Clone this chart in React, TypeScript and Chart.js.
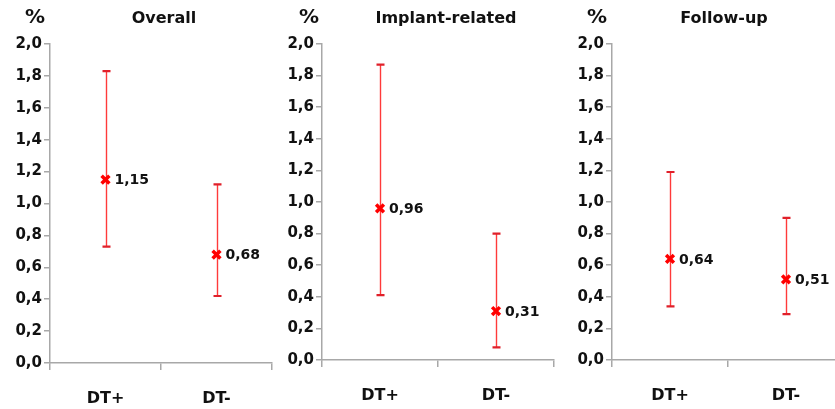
import React, { useEffect, useRef } from 'react';
import { Chart, registerables } from 'chart.js';

Chart.register(...registerables);

const categories = ['DT+', 'DT-'];
const panelTitles = ['Overall', 'Implant-related', 'Follow-up'];
const unitLabel = '%';

const overallValues = [1.15, 0.68];
const overallLower = [0.73, 0.42];
const overallUpper = [1.83, 1.12];

const implantValues = [0.96, 0.31];
const implantLower = [0.41, 0.08];
const implantUpper = [1.87, 0.8];

const followValues = [0.64, 0.51];
const followLower = [0.34, 0.29];
const followUpper = [1.19, 0.9];

const yMin = 0;
const yMax = 2;
const yStep = 0.2;

const fmt = (v: number, d: number) => v.toFixed(d).replace('.', ',');

const FONT = '"DejaVu Sans", Verdana, sans-serif';
const AXIS_COLOR = '#a8a8a8';

type Layout = {
  canvasLeft: number;
  width: number;
  axisLeft: number;
  axisRight: number;
  bottom: number;
  titleX: number;
  pctX: number;
};

const layouts: Layout[] = [
  { canvasLeft: 0, width: 300, axisLeft: 50, axisRight: 272, bottom: 363, titleX: 164, pctX: 35 },
  { canvasLeft: 275, width: 300, axisLeft: 322, axisRight: 554, bottom: 360, titleX: 446, pctX: 309 },
  { canvasLeft: 560, width: 300, axisLeft: 612, axisRight: 844, bottom: 360, titleX: 724, pctX: 597 },
];

const H = 409;

function Panel(props: {
  title: string;
  values: number[];
  lower: number[];
  upper: number[];
  layout: Layout;
}) {
  const { title, values, lower, upper, layout } = props;
  const ref = useRef<HTMLCanvasElement>(null);

  useEffect(() => {
    if (!ref.current) return;
    const L = layout;
    const yAxisWidth = L.axisLeft - L.canvasLeft;
    const rightPad = L.canvasLeft + L.width - L.axisRight;
    const xAxisHeight = H - L.bottom;

    const decor = {
      id: 'decor',
      beforeDatasetsDraw(chart: any) {
        const { ctx } = chart;
        const x = chart.scales.x;
        const y = chart.scales.y;
        ctx.save();
        values.forEach((_v, i) => {
          const px = Math.round(x.getPixelForValue(i)) + 0.5;
          const yt = y.getPixelForValue(upper[i]);
          const yb = y.getPixelForValue(lower[i]);
          ctx.strokeStyle = '#ff3a3a';
          ctx.lineWidth = 1.4;
          ctx.beginPath();
          ctx.moveTo(px, yt);
          ctx.lineTo(px, yb);
          ctx.stroke();
          ctx.strokeStyle = '#e0202a';
          ctx.lineWidth = 2.2;
          ctx.beginPath();
          ctx.moveTo(px - 4, yt);
          ctx.lineTo(px + 4, yt);
          ctx.moveTo(px - 4, yb);
          ctx.lineTo(px + 4, yb);
          ctx.stroke();
        });
        ctx.restore();
      },
      afterDatasetsDraw(chart: any) {
        const { ctx } = chart;
        const x = chart.scales.x;
        const y = chart.scales.y;
        ctx.save();
        ctx.fillStyle = '#111';
        ctx.font = `bold 14px ${FONT}`;
        ctx.textAlign = 'left';
        ctx.textBaseline = 'middle';
        values.forEach((v, i) => {
          const px = x.getPixelForValue(i);
          const py = y.getPixelForValue(v);
          ctx.fillText(fmt(v, 2), px + 9, py + 1);
        });
        ctx.restore();
      },
      afterDraw(chart: any) {
        const { ctx } = chart;
        ctx.save();
        ctx.fillStyle = '#111';
        ctx.textAlign = 'center';
        ctx.textBaseline = 'middle';
        ctx.font = `bold 20px ${FONT}`;
        ctx.fillText(unitLabel, L.pctX - L.canvasLeft, 18);
        ctx.font = `bold 16px ${FONT}`;
        ctx.fillText(title, L.titleX - L.canvasLeft, 19);
        ctx.restore();
      },
    };

    const chart = new Chart(ref.current, {
      type: 'line',
      data: {
        labels: categories,
        datasets: [
          {
            data: values,
            showLine: false,
            pointStyle: 'crossRot',
            pointRadius: 5.5,
            pointBorderWidth: 3.5,
            pointBorderColor: '#ff0000',
            pointBackgroundColor: '#ff0000',
          },
        ],
      },
      options: {
        responsive: false,
        animation: false,
        devicePixelRatio: 1,
        layout: { padding: { top: 44, right: rightPad, left: 0, bottom: 0 } },
        plugins: {
          legend: { display: false },
          tooltip: { enabled: false },
          title: { display: false },
        },
        scales: {
          x: {
            type: 'category',
            offset: true,
            grid: {
              display: true,
              offset: true,
              drawOnChartArea: false,
              drawTicks: true,
              tickLength: 7,
              color: AXIS_COLOR,
              lineWidth: 1.5,
            },
            border: { display: true, color: AXIS_COLOR, width: 1.5 },
            ticks: {
              color: '#111',
              font: { family: FONT, size: 16, weight: 'bold' },
              padding: 19,
              maxRotation: 0,
            },
            afterFit(scale: any) {
              scale.height = xAxisHeight;
            },
          },
          y: {
            min: yMin,
            max: yMax,
            grid: {
              display: true,
              drawOnChartArea: false,
              drawTicks: true,
              tickLength: 6,
              color: AXIS_COLOR,
              lineWidth: 1.5,
            },
            border: { display: true, color: AXIS_COLOR, width: 1.5 },
            ticks: {
              stepSize: yStep,
              color: '#111',
              font: { family: FONT, size: 15, weight: 'bold' },
              padding: 2,
              callback: (v: any) => fmt(Number(v), 1),
            },
            afterFit(scale: any) {
              scale.width = yAxisWidth;
            },
          },
        },
      } as any,
      plugins: [decor],
    });
    return () => chart.destroy();
  }, []);

  return (
    <canvas
      ref={ref}
      width={layout.width}
      height={H}
      style={{
        position: 'absolute',
        left: layout.canvasLeft,
        top: 0,
        width: layout.width,
        height: H,
      }}
    />
  );
}

export default function App() {
  const valueSets = [overallValues, implantValues, followValues];
  const lowerSets = [overallLower, implantLower, followLower];
  const upperSets = [overallUpper, implantUpper, followUpper];
  return (
    <div
      style={{
        position: 'fixed',
        left: 0,
        top: 0,
        width: 835,
        height: H,
        overflow: 'hidden',
        background: '#fff',
      }}
    >
      {panelTitles.map((t, i) => (
        <Panel
          key={t}
          title={t}
          values={valueSets[i]}
          lower={lowerSets[i]}
          upper={upperSets[i]}
          layout={layouts[i]}
        />
      ))}
    </div>
  );
}
